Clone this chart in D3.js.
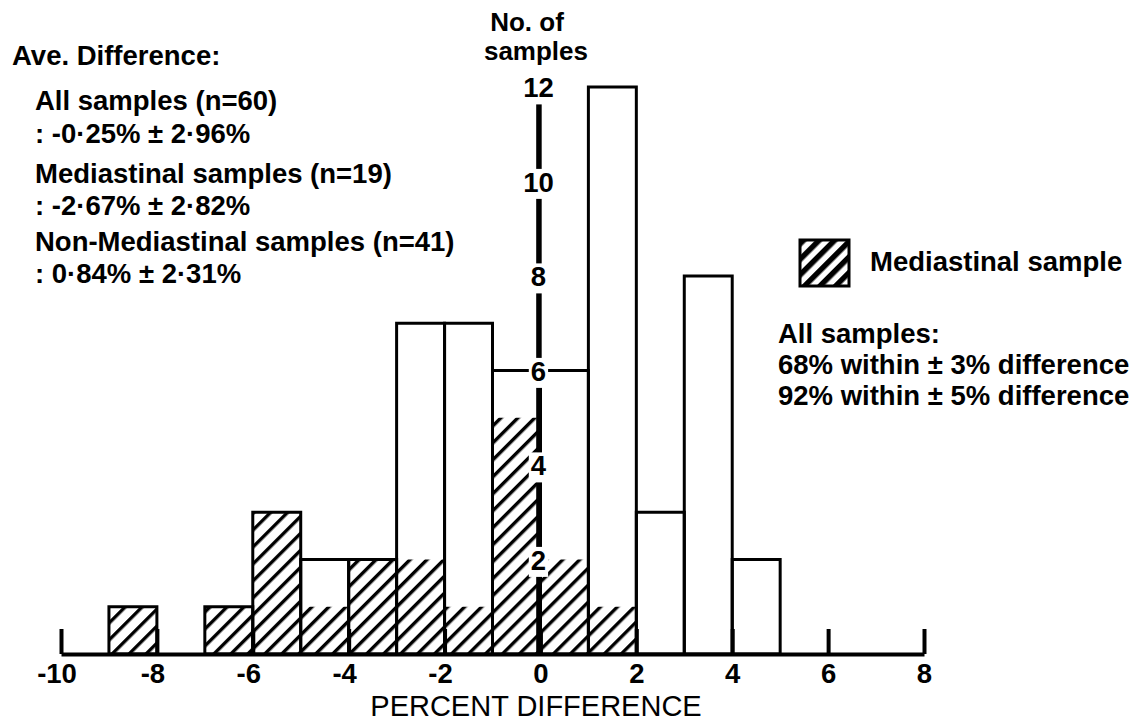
<!DOCTYPE html>
<html>
<head>
<meta charset="utf-8">
<script src="https://cdn.jsdelivr.net/npm/d3@7"></script>
<style>
  html, body { margin: 0; padding: 0; background: #fff; }
  svg { display: block; }
  text { font-family: "Liberation Sans", Arial, sans-serif; fill: #000; }
</style>
</head>
<body>
<svg id="chart" width="1143" height="723"></svg>
<script>
// Left edge of each 1% bin
const binStarts = [-9, -8, -7, -6, -5, -4, -3, -2, -1, 0, 1, 2, 3, 4];
// Number of samples in each bin (all samples)
const allCounts = [1, 0, 1, 3, 2, 2, 7, 7, 6, 6, 12, 3, 8, 2];
// Number of mediastinal samples in each bin
const mediastinalCounts = [1, 0, 1, 3, 1, 2, 2, 1, 5, 2, 1, 0, 0, 0];
const xTickValues = [-10, -8, -6, -4, -2, 0, 2, 4, 6, 8];
const yTickValues = [2, 4, 6, 8, 10, 12];

const statsHeading = "Ave. Difference:";
const statsLines = [
  "All samples (n=60)",
  ": -0·25% ± 2·96%",
  "Mediastinal samples (n=19)",
  ": -2·67% ± 2·82%",
  "Non-Mediastinal samples (n=41)",
  ": 0·84% ± 2·31%"
];
const summaryLines = [
  "All samples:",
  "68% within ± 3% difference",
  "92% within ± 5% difference"
];
const legendLabel = "Mediastinal sample";

const FS = 27.5;
const svg = d3.select("#chart");

const x = d3.scaleLinear().domain([-10, 8]).range([61, 924]);
const y = d3.scaleLinear().domain([0, 12]).range([654, 87]);

const bold = (sel, size = FS) => sel.attr("font-size", size).style("font-weight", "bold");

// hatch patterns
const defs = svg.append("defs");
defs.append("pattern")
  .attr("id", "hatch")
  .attr("patternUnits", "userSpaceOnUse")
  .attr("width", 12).attr("height", 12)
  .attr("patternTransform", "rotate(45)")
  .append("rect")
  .attr("x", 0).attr("y", 0).attr("width", 3.4).attr("height", 12)
  .attr("fill", "#000");
defs.append("pattern")
  .attr("id", "hatchLegend")
  .attr("patternUnits", "userSpaceOnUse")
  .attr("width", 11).attr("height", 11)
  .attr("patternTransform", "translate(800,240) rotate(45)")
  .append("rect")
  .attr("x", 0).attr("y", 0).attr("width", 5.5).attr("height", 11)
  .attr("fill", "#000");

const bins = binStarts.map((s, i) => ({ start: s, all: allCounts[i], med: mediastinalCounts[i] }));

// mediastinal part of each bin
svg.append("g").selectAll("rect")
  .data(bins.filter(d => d.med > 0))
  .join("rect")
  .attr("x", d => x(d.start))
  .attr("y", d => y(d.med))
  .attr("width", d => x(d.start + 1) - x(d.start))
  .attr("height", d => y(0) - y(d.med))
  .attr("fill", "url(#hatch)");

// outline of all samples in each bin
svg.append("g").selectAll("rect")
  .data(bins.filter(d => d.all > 0))
  .join("rect")
  .attr("x", d => x(d.start))
  .attr("y", d => y(d.all))
  .attr("width", d => x(d.start + 1) - x(d.start))
  .attr("height", d => y(0) - y(d.all))
  .attr("fill", "none")
  .attr("stroke", "#000")
  .attr("stroke-width", 3);

// x axis: baseline with upward ticks
const xAxis = svg.append("g")
  .attr("transform", `translate(0,${y(0)})`)
  .call(d3.axisBottom(x)
    .tickValues(xTickValues)
    .tickSizeInner(-25)
    .tickSizeOuter(0)
    .tickPadding(30)
    .tickFormat(d => d < 0 ? "-" + Math.abs(d) : String(d)));
xAxis.select(".domain").attr("stroke", "#000").attr("stroke-width", 4);
xAxis.selectAll(".tick line").attr("stroke", "#000").attr("stroke-width", 4);
xAxis.selectAll(".tick text")
  .attr("font-family", null)
  .attr("fill", "#000")
  .call(bold)
  .attr("dy", 0)
  .attr("y", 29)
  .attr("dx", d => d < 0 ? -4.5 : 0);

// x axis title
svg.append("text")
  .attr("x", 536).attr("y", 716)
  .attr("text-anchor", "middle")
  .attr("font-size", 29)
  .style("font-weight", "normal")
  .text("PERCENT DIFFERENCE");

// y axis through zero, labels sit on white patches that break the line
const yAxis = svg.append("g")
  .attr("transform", `translate(${x(0) - 2},0)`)
  .call(d3.axisLeft(y).tickValues(yTickValues).tickSize(0).tickSizeOuter(0));
yAxis.select(".domain").attr("stroke", "#000").attr("stroke-width", 5.5);
yAxis.selectAll(".tick text")
  .attr("x", 0)
  .attr("dy", "0.36em")
  .attr("text-anchor", "middle")
  .attr("font-family", null)
  .attr("fill", "#000")
  .call(bold);
yAxis.selectAll(".tick").each(function () {
  const t = d3.select(this).select("text");
  const b = t.node().getBBox();
  d3.select(this).insert("rect", "text")
    .attr("x", b.x - 2).attr("y", b.y + 2)
    .attr("width", b.width + 4).attr("height", b.height - 1)
    .attr("fill", "#fff");
});

// y axis title on two lines
const yTitle = svg.append("text")
  .attr("text-anchor", "middle")
  .call(bold, 26);
yTitle.append("tspan").attr("x", 527).attr("y", 31).text("No. of");
yTitle.append("tspan").attr("x", 536).attr("y", 60).text("samples");

// average difference block
svg.append("text").attr("x", 12).attr("y", 65).call(bold).text(statsHeading);
const statsBaselines = [110, 143, 183, 215, 251, 283];
svg.append("g").selectAll("text")
  .data(statsLines)
  .join("text")
  .attr("x", 35)
  .attr("y", (d, i) => statsBaselines[i])
  .call(bold)
  .text(d => d);

// legend
svg.append("rect")
  .attr("x", 800).attr("y", 240).attr("width", 49).attr("height", 46)
  .attr("fill", "url(#hatchLegend)")
  .attr("stroke", "#000").attr("stroke-width", 3);
svg.append("text").attr("x", 870).attr("y", 271).call(bold).text(legendLabel);

// summary block
const summaryBaselines = [343, 374, 405];
svg.append("g").selectAll("text")
  .data(summaryLines)
  .join("text")
  .attr("x", 778)
  .attr("y", (d, i) => summaryBaselines[i])
  .call(bold)
  .text(d => d);
</script>
</body>
</html>
